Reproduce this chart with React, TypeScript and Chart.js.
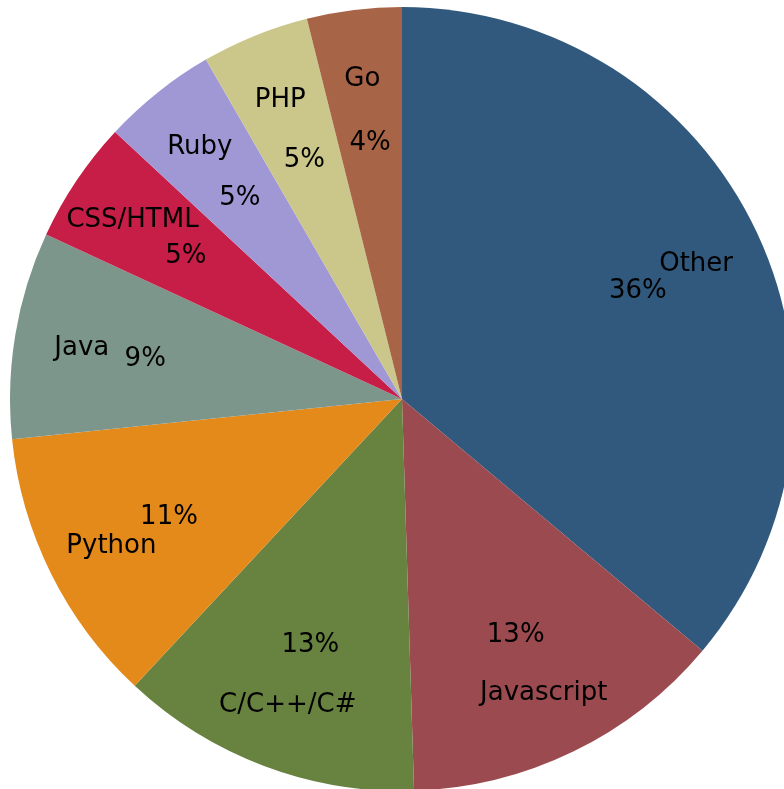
import React, { useEffect, useRef } from "react";
import { Chart, registerables } from "chart.js";

Chart.register(...registerables);

const languages = ["Other", "Javascript", "C/C++/C#", "Python", "Java", "CSS/HTML", "Ruby", "PHP", "Go"];
const shares = [36.1, 13.41, 12.43, 11.42, 8.53, 5.04, 4.73, 4.44, 3.9];
const percentLabels = ["36%", "13%", "13%", "11%", "9%", "5%", "5%", "5%", "4%"];
const sliceColors = ["#31597D", "#9B4A4F", "#688240", "#E48A1B", "#7D968B", "#C71E47", "#A098D5", "#CBC68A", "#A86446"];

const LABEL_DIST = 0.828;
const PCT_DIST = 0.664;

const sliceLabels = {
  id: "sliceLabels",
  afterDatasetsDraw(chart: any) {
    const ctx = chart.ctx;
    const meta = chart.getDatasetMeta(0);
    ctx.save();
    ctx.font = '26px "DejaVu Sans"';
    ctx.fillStyle = "#000000";
    ctx.textAlign = "center";
    ctx.textBaseline = "middle";
    meta.data.forEach((arc: any, i: number) => {
      const p = arc.getProps(["x", "y", "startAngle", "endAngle", "outerRadius"], true);
      const mid = (p.startAngle + p.endAngle) / 2;
      const cx = Math.cos(mid);
      const cy = Math.sin(mid);
      const dy = 2.5;
      ctx.fillText(languages[i], p.x + cx * p.outerRadius * LABEL_DIST, p.y + cy * p.outerRadius * LABEL_DIST + dy);
      ctx.fillText(percentLabels[i], p.x + cx * p.outerRadius * PCT_DIST, p.y + cy * p.outerRadius * PCT_DIST + dy);
    });
    ctx.restore();
  },
};

export default function App() {
  const canvasRef = useRef<HTMLCanvasElement | null>(null);

  useEffect(() => {
    if (!canvasRef.current) return;
    const chart = new Chart(canvasRef.current, {
      type: "pie",
      data: {
        labels: languages,
        datasets: [
          {
            data: shares,
            backgroundColor: sliceColors,
            borderWidth: 0,
            hoverOffset: 0,
          },
        ],
      },
      options: {
        responsive: false,
        animation: false,
        layout: { padding: 0 },
        plugins: {
          legend: { display: false },
          tooltip: { enabled: false },
        },
      },
      plugins: [sliceLabels],
    });
    return () => chart.destroy();
  }, []);

  return (
    <div
      style={{
        position: "fixed",
        left: 0,
        top: 0,
        width: 784,
        height: 789,
        overflow: "hidden",
        background: "#ffffff",
      }}
    >
      <canvas
        ref={canvasRef}
        width={784}
        height={784}
        style={{ position: "absolute", left: 10, top: 7, width: 784, height: 784 }}
      />
    </div>
  );
}
